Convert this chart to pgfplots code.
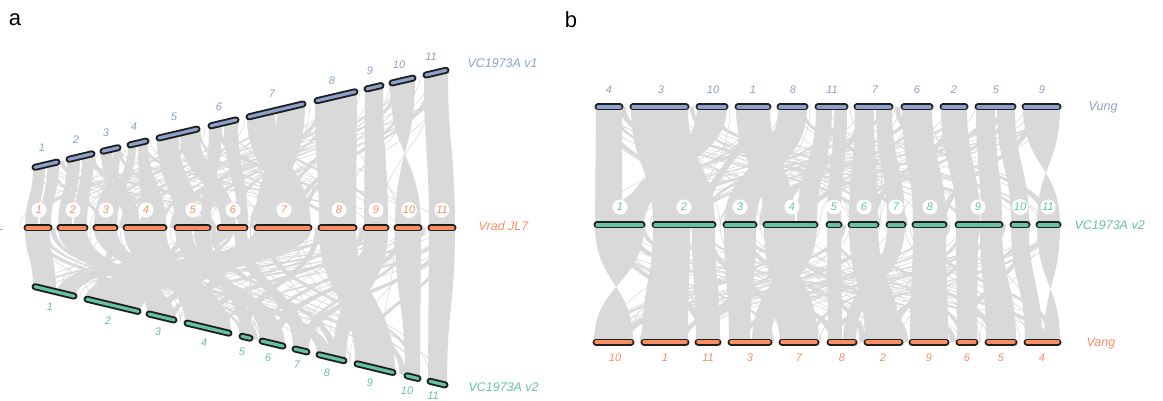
\documentclass[border=0pt]{standalone}
\usepackage{fontspec}
\setmainfont{Liberation Sans}
\usepackage{pgfplots}
\usepackage{pgfplotstable}
\pgfplotsset{compat=1.18}
\definecolor{cblue}{RGB}{141,160,203}
\definecolor{corange}{RGB}{252,141,98}
\definecolor{cgreen}{RGB}{102,194,165}
\definecolor{rib}{RGB}{217,217,217}
\definecolor{thinrib}{RGB}{212,212,212}
\definecolor{edge}{RGB}{30,30,30}
\tikzset{
  numlab/.style={font=\fontsize{11}{13}\selectfont\itshape},
  circlab/.style={numlab,circle,fill=white,inner sep=0.5pt,minimum size=15pt},
  speclab/.style={font=\fontsize{12.5}{14}\selectfont\itshape,anchor=west},
  chrbar/.style={line width=7pt,line cap=round},
  chrin/.style={line width=3.2pt,line cap=round}}

% ---------- chromosome bars (pixel coordinates, y downwards) ----------
\pgfplotstableread{
x y
35 167.3
57 162.1
nan nan
69 159.3
92 153.8
nan nan
103 151.2
118 147.7
nan nan
130 144.9
146 141.1
nan nan
159 138.0
197 129.1
nan nan
211 125.8
236 119.9
nan nan
249 116.8
303 104.0
nan nan
317 100.7
355 91.8
nan nan
367 88.9
381 85.6
nan nan
392 83.0
413 78.1
nan nan
426 75.0
446 70.3
}\barsAtop
\pgfplotstableread{
x y
27 228
49 228
nan nan
60 228
85 228
nan nan
96 228
115 228
nan nan
126 228
164 228
nan nan
177 228
208 228
nan nan
220 228
245 228
nan nan
257 228
309 228
nan nan
321 228
354 228
nan nan
366 228
386 228
nan nan
397 228
419 228
nan nan
431 228
453 228
}\barsAmid
\pgfplotstableread{
x y
35 286.7
74 296.1
nan nan
87 299.2
138 311.4
nan nan
149 314.0
174 320.0
nan nan
187 323.1
229 333.2
nan nan
242 336.3
250 338.2
nan nan
262 341.1
283 346.1
nan nan
295 349.0
307 351.9
nan nan
319 354.7
344 360.7
nan nan
357 363.8
393 372.5
nan nan
407 375.8
418 378.5
nan nan
430 381.3
445 384.9
}\barsAbot
\pgfplotstableread{
x y
598 107
620 107
nan nan
633 107
686 107
nan nan
699 107
725 107
nan nan
738 107
768 107
nan nan
780 107
805 107
nan nan
818 107
845 107
nan nan
857 107
890 107
nan nan
904 107
930 107
nan nan
943 107
965 107
nan nan
978 107
1013 107
nan nan
1025 107
1058 107
}\barsBtop
\pgfplotstableread{
x y
597 225
642 225
nan nan
655 225
713 225
nan nan
726 225
754 225
nan nan
766 225
815 225
nan nan
829 225
839 225
nan nan
851 225
876 225
nan nan
889 225
903 225
nan nan
915 225
944 225
nan nan
958 225
1000 225
nan nan
1013 225
1027 225
nan nan
1039 225
1058 225
}\barsBmid
\pgfplotstableread{
x y
596 342
631 342
nan nan
644 342
686 342
nan nan
698 342
718 342
nan nan
731 342
769 342
nan nan
782 342
816 342
nan nan
830 342
854 342
nan nan
867 342
900 342
nan nan
912 342
946 342
nan nan
959 342
975 342
nan nan
988 342
1014 342
nan nan
1027 342
1058 342
}\barsBbot

% ---------- synteny ribbons: a1 a2 on upper row, b1 b2 on lower row ----------
\pgfplotstableread{
a1 a2 b1 b2
33 45 25 38
47 59 40 51
67 80 58 72
82 94 74 87
101 112 124 140
113 120 94 112
128 136 101 117
138 148 142 166
157 178 175 200
180 199 221 236
209 222 201 211
224 238 238 248
247 275 284 311
277 305 255 282
315 357 319 356
365 383 364 388
390 415 421 395
424 448 429 455
50 53 100 104
92 95 150 154
118 121 196 200
170 174 30 34
198 200 300 304
236 239 130 134
258 262 380 384
300 304 180 184
330 334 230 234
345 349 280 284
410 414 300 305
440 444 250 254
380 383 160 164
60 64 210 216
85 90 240 246
140 144 330 336
185 190 100 106
215 220 350 356
265 270 30 36
290 296 140 146
320 325 180 186
350 355 120 126
395 400 200 206
430 435 290 296
445 449 170 175
}\ribAtop
\pgfplotstableread{
a1 a2 b1 b2
25 50 33 56
58 87 147 176
94 117 317 331
124 166 185 231
175 192 260 285
194 210 240 252
218 232 57 76
234 247 293 309
255 311 85 140
319 356 355 395
364 388 333 346
395 421 405 420
429 455 428 447
40 44 240 244
70 74 380 384
100 104 200 204
140 145 300 305
160 164 60 64
200 204 400 406
230 234 120 124
270 275 160 166
300 304 40 44
330 334 100 105
345 350 170 175
370 374 260 265
385 388 90 94
410 414 300 304
440 445 220 224
450 454 360 364
30 36 130 138
50 55 250 258
80 86 220 228
110 116 95 102
150 156 380 388
180 186 110 118
210 216 330 338
240 246 190 198
260 266 415 420
285 292 60 68
315 320 240 248
340 346 60 68
360 366 200 208
375 380 120 128
400 406 270 278
420 426 150 158
445 450 300 308
}\ribAbot
\pgfplotstableread{
a1 a2 b1 b2
596 622 595 622
631 688 653 715
697 727 623 644
736 770 764 795
778 807 724 756
816 832 797 817
834 847 827 841
855 874 849 878
876 892 887 905
902 932 913 946
941 967 956 980
976 995 981 1002
997 1015 1011 1029
1023 1060 1060 1037
610 614 800 804
650 654 960 964
690 694 870 874
760 764 640 644
800 804 1020 1024
840 844 700 704
880 884 620 624
920 924 760 768
1000 1006 690 696
1005 1010 850 856
1040 1044 800 804
960 964 600 604
600 606 700 708
620 626 860 866
660 668 900 908
705 712 990 998
745 752 700 708
785 792 610 618
820 826 940 948
860 866 780 786
895 900 1045 1052
910 916 660 668
950 956 870 876
985 992 800 808
1030 1036 940 946
1050 1056 600 606
}\ribBtop
\pgfplotstableread{
a1 a2 b1 b2
595 644 633 594
653 690 642 688
692 715 696 720
724 756 729 750
764 790 780 818
792 817 752 771
827 841 828 842
849 878 865 900
887 905 843 856
913 946 910 948
956 978 957 977
980 1002 986 1016
1011 1029 1025 1042
1037 1060 1060 1044
600 604 770 774
640 644 900 906
700 704 1000 1004
740 746 860 866
790 796 640 646
830 834 960 964
870 876 700 706
930 934 620 626
960 964 810 814
990 996 740 746
1020 1024 880 884
1050 1054 680 684
610 616 700 708
625 632 830 838
670 676 950 956
705 710 780 788
735 742 1040 1048
775 782 900 908
810 816 700 706
840 846 600 606
860 866 990 996
895 900 760 766
920 926 1050 1056
945 950 680 686
975 980 890 896
1000 1006 620 628
1025 1030 960 966
1045 1050 830 836
}\ribBbot

% ---------- thin single links: a on upper row, b on lower row ----------
\pgfplotstableread{
a b
40 150
55 205
70 130
90 250
110 40
130 300
145 60
165 330
185 95
200 270
215 120
230 380
260 160
280 70
300 410
320 230
340 140
355 280
370 200
380 300
395 110
405 250
415 340
430 190
440 260
445 330
175 440
120 370
60 300
235 30
35 120
48 260
75 180
85 400
100 230
125 20
138 190
150 350
160 80
178 260
195 420
205 60
225 300
245 90
255 200
270 340
290 130
310 260
325 60
335 400
350 190
360 100
375 260
390 180
400 30
420 140
435 380
448 210
}\linAtop
\pgfplotstableread{
a b
30 200
45 300
65 120
80 380
100 60
115 260
130 420
150 90
170 350
190 40
205 230
225 150
240 400
260 60
275 320
290 180
305 100
330 50
345 250
360 140
375 300
385 70
400 200
415 350
435 120
450 260
160 440
110 330
28 90
300 400
25 150
35 350
55 200
75 260
90 100
105 420
120 180
135 60
145 280
165 220
180 380
195 120
215 300
235 80
250 250
265 430
280 140
295 360
310 200
325 120
340 330
350 60
365 220
380 160
395 380
405 100
420 250
430 60
445 180
455 300
}\linAbot
\pgfplotstableread{
a b
600 800
610 950
640 720
670 1000
700 880
720 640
740 1040
760 600
790 900
800 690
820 1000
840 760
860 620
880 980
900 700
920 1050
950 800
960 650
990 720
1000 870
1010 620
1030 760
1050 900
1055 680
650 850
680 940
830 1055
870 760
598 700
605 1020
625 880
645 990
660 760
675 630
690 1045
705 800
715 920
730 700
750 980
765 850
780 640
795 1030
810 760
825 900
850 990
865 700
885 880
895 610
910 820
930 990
945 720
965 880
975 640
995 960
1015 780
1025 660
1045 850
1058 720
}\linBtop
\pgfplotstableread{
a b
600 760
615 900
630 1010
660 820
690 1050
710 630
730 880
750 990
770 660
800 940
820 600
850 1030
870 700
890 620
920 780
940 1000
960 700
980 860
1000 640
1020 900
1045 760
1055 600
640 960
700 850
780 1055
850 650
910 1040
598 860
608 1040
620 720
645 880
655 980
670 700
685 940
695 610
720 820
745 650
760 1000
775 880
790 620
805 1040
815 760
835 900
845 700
860 980
880 640
895 860
905 1020
925 700
935 880
950 620
970 760
990 1040
1005 820
1030 700
1040 980
1058 860
}\linBbot

% #1 table, #2 yA at x=32, #3 slope A, #4 yB at x=32, #5 slope B
\newcommand\ribbons[5]{%
  \pgfplotstablegetrowsof{#1}%
  \pgfmathtruncatemacro\nr{\pgfplotsretval-1}%
  \pgfplotsforeachungrouped \i in {0,...,\nr}{%
    \pgfplotstablegetelem{\i}{a1}\of{#1}\edef\ra{\pgfplotsretval}%
    \pgfplotstablegetelem{\i}{a2}\of{#1}\edef\rb{\pgfplotsretval}%
    \pgfplotstablegetelem{\i}{b1}\of{#1}\edef\rc{\pgfplotsretval}%
    \pgfplotstablegetelem{\i}{b2}\of{#1}\edef\rd{\pgfplotsretval}%
    \pgfmathsetmacro\ya{#2+(#3)*(\ra-32)}%
    \pgfmathsetmacro\yb{#2+(#3)*(\rb-32)}%
    \pgfmathsetmacro\yc{#4+(#5)*(\rc-32)}%
    \pgfmathsetmacro\yd{#4+(#5)*(\rd-32)}%
    \pgfmathsetmacro\ymac{(\ya+\yc)/2}%
    \pgfmathsetmacro\ymbd{(\yb+\yd)/2}%
    \edef\temp{\noexpand\fill[rib] (axis cs:\ra,\ya) .. controls (axis cs:\ra,\ymac) and (axis cs:\rc,\ymac) .. (axis cs:\rc,\yc) -- (axis cs:\rd,\yd) .. controls (axis cs:\rd,\ymbd) and (axis cs:\rb,\ymbd) .. (axis cs:\rb,\yb) -- cycle;}%
    \temp
  }%
}
\newcommand\links[5]{%
  \pgfplotstablegetrowsof{#1}%
  \pgfmathtruncatemacro\nr{\pgfplotsretval-1}%
  \pgfplotsforeachungrouped \i in {0,...,\nr}{%
    \pgfplotstablegetelem{\i}{a}\of{#1}\edef\ra{\pgfplotsretval}%
    \pgfplotstablegetelem{\i}{b}\of{#1}\edef\rc{\pgfplotsretval}%
    \pgfmathsetmacro\ya{#2+(#3)*(\ra-32)}%
    \pgfmathsetmacro\yc{#4+(#5)*(\rc-32)}%
    \pgfmathsetmacro\ymac{(\ya+\yc)/2}%
    \edef\temp{\noexpand\draw[thinrib,line width=0.5pt] (axis cs:\ra,\ya) .. controls (axis cs:\ra,\ymac) and (axis cs:\rc,\ymac) .. (axis cs:\rc,\yc);}%
    \temp
  }%
}

\begin{document}
\begin{tikzpicture}
\begin{axis}[width=1163pt,height=401pt,scale only axis,
  xmin=0,xmax=1163,ymin=0,ymax=401,y dir=reverse,
  hide axis,clip=false,unbounded coords=jump]

% ribbons and links
\links{\linAtop}{168}{-0.236}{228}{0}
\links{\linAbot}{228}{0}{286}{0.2395}
\links{\linBtop}{107}{0}{225}{0}
\links{\linBbot}{225}{0}{342}{0}
\ribbons{\ribAtop}{168}{-0.236}{228}{0}
\ribbons{\ribAbot}{228}{0}{286}{0.2395}
\ribbons{\ribBtop}{107}{0}{225}{0}
\ribbons{\ribBbot}{225}{0}{342}{0}

% bars
\addplot[edge,chrbar,mark=none] table {\barsAtop};
\addplot[cblue,chrin,mark=none] table {\barsAtop};
\addplot[edge,chrbar,mark=none] table {\barsAmid};
\addplot[corange,chrin,mark=none] table {\barsAmid};
\addplot[edge,chrbar,mark=none] table {\barsAbot};
\addplot[cgreen,chrin,mark=none] table {\barsAbot};
\addplot[edge,chrbar,mark=none] table {\barsBtop};
\addplot[cblue,chrin,mark=none] table {\barsBtop};
\addplot[edge,chrbar,mark=none] table {\barsBmid};
\addplot[cgreen,chrin,mark=none] table {\barsBmid};
\addplot[edge,chrbar,mark=none] table {\barsBbot};
\addplot[corange,chrin,mark=none] table {\barsBbot};
\addplot[corange,line width=0.8pt,mark=none] coordinates {(0,229) (3,229)};

% panel letters
\node[font=\fontsize{22}{24}\selectfont] at (axis cs:15,20) {a};
\node[font=\fontsize{22}{24}\selectfont] at (axis cs:571,20) {b};

% panel a labels
\node[numlab,text=cblue] at (axis cs:42,148) {1};
\node[numlab,text=cblue] at (axis cs:76,140) {2};
\node[numlab,text=cblue] at (axis cs:106,133) {3};
\node[numlab,text=cblue] at (axis cs:134,127) {4};
\node[numlab,text=cblue] at (axis cs:174,117) {5};
\node[numlab,text=cblue] at (axis cs:219,107) {6};
\node[numlab,text=cblue] at (axis cs:272,94) {7};
\node[numlab,text=cblue] at (axis cs:332,81) {8};
\node[numlab,text=cblue] at (axis cs:370,71) {9};
\node[numlab,text=cblue] at (axis cs:399,65) {10};
\node[numlab,text=cblue] at (axis cs:431,57) {11};
\node[circlab,text=corange] at (axis cs:39,210) {1};
\node[circlab,text=corange] at (axis cs:73,210) {2};
\node[circlab,text=corange] at (axis cs:106,210) {3};
\node[circlab,text=corange] at (axis cs:146,210) {4};
\node[circlab,text=corange] at (axis cs:193,210) {5};
\node[circlab,text=corange] at (axis cs:233,210) {6};
\node[circlab,text=corange] at (axis cs:284,210) {7};
\node[circlab,text=corange] at (axis cs:339,210) {8};
\node[circlab,text=corange] at (axis cs:376,210) {9};
\node[circlab,text=corange] at (axis cs:409,210) {10};
\node[circlab,text=corange] at (axis cs:442,210) {11};
\node[numlab,text=cgreen] at (axis cs:50,307) {1};
\node[numlab,text=cgreen] at (axis cs:108,321) {2};
\node[numlab,text=cgreen] at (axis cs:158,332) {3};
\node[numlab,text=cgreen] at (axis cs:204,343) {4};
\node[numlab,text=cgreen] at (axis cs:242,352) {5};
\node[numlab,text=cgreen] at (axis cs:268,358) {6};
\node[numlab,text=cgreen] at (axis cs:297,365) {7};
\node[numlab,text=cgreen] at (axis cs:327,373) {8};
\node[numlab,text=cgreen] at (axis cs:370,383) {9};
\node[numlab,text=cgreen] at (axis cs:407,391) {10};
\node[numlab,text=cgreen] at (axis cs:433,396) {11};
\node[speclab,text=cblue] at (axis cs:464,63) {VC1973A v1};
\node[speclab,text=corange] at (axis cs:475,226) {Vrad JL7};
\node[speclab,text=cgreen] at (axis cs:465,387) {VC1973A v2};

% panel b labels
\node[numlab,text=cblue] at (axis cs:609,90) {4};
\node[numlab,text=cblue] at (axis cs:661,90) {3};
\node[numlab,text=cblue] at (axis cs:713,90) {10};
\node[numlab,text=cblue] at (axis cs:753,90) {1};
\node[numlab,text=cblue] at (axis cs:793,90) {8};
\node[numlab,text=cblue] at (axis cs:832,90) {11};
\node[numlab,text=cblue] at (axis cs:875,90) {7};
\node[numlab,text=cblue] at (axis cs:917,90) {6};
\node[numlab,text=cblue] at (axis cs:954,90) {2};
\node[numlab,text=cblue] at (axis cs:996,90) {5};
\node[numlab,text=cblue] at (axis cs:1042,90) {9};
\node[circlab,text=cgreen] at (axis cs:620,207) {1};
\node[circlab,text=cgreen] at (axis cs:684,207) {2};
\node[circlab,text=cgreen] at (axis cs:740,207) {3};
\node[circlab,text=cgreen] at (axis cs:792,207) {4};
\node[circlab,text=cgreen] at (axis cs:834,207) {5};
\node[circlab,text=cgreen] at (axis cs:864,207) {6};
\node[circlab,text=cgreen] at (axis cs:896,207) {7};
\node[circlab,text=cgreen] at (axis cs:930,207) {8};
\node[circlab,text=cgreen] at (axis cs:978,207) {9};
\node[circlab,text=cgreen] at (axis cs:1020,207) {10};
\node[circlab,text=cgreen] at (axis cs:1048,207) {11};
\node[numlab,text=corange] at (axis cs:615,358) {10};
\node[numlab,text=corange] at (axis cs:665,358) {1};
\node[numlab,text=corange] at (axis cs:708,358) {11};
\node[numlab,text=corange] at (axis cs:750,358) {3};
\node[numlab,text=corange] at (axis cs:799,358) {7};
\node[numlab,text=corange] at (axis cs:842,358) {8};
\node[numlab,text=corange] at (axis cs:883,358) {2};
\node[numlab,text=corange] at (axis cs:929,358) {9};
\node[numlab,text=corange] at (axis cs:967,358) {6};
\node[numlab,text=corange] at (axis cs:1001,358) {5};
\node[numlab,text=corange] at (axis cs:1042,358) {4};
\node[speclab,text=cblue] at (axis cs:1085,107) {Vung};
\node[speclab,text=cgreen] at (axis cs:1071,225) {VC1973A v2};
\node[speclab,text=corange] at (axis cs:1083,343) {Vang};
\end{axis}
\pgfresetboundingbox
\path (current axis.south west) rectangle (current axis.north east);
\end{tikzpicture}
\end{document}
